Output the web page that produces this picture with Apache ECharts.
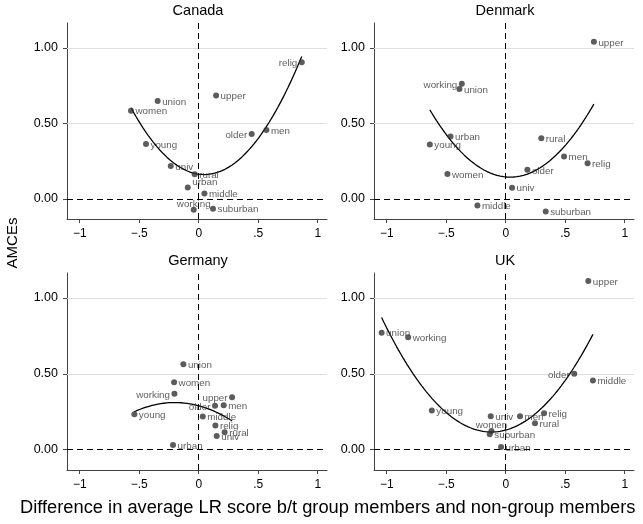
<!DOCTYPE html>
<html>
<head>
<meta charset="utf-8">
<script src="https://cdn.jsdelivr.net/npm/echarts@6/dist/echarts.min.js"></script>
<style>
  html, body { margin: 0; padding: 0; background: #fff; }
  #chart { width: 643px; height: 524px; }
</style>
</head>
<body>
<div id="chart"></div>
<script>
// values
const countries = ["Canada", "Denmark", "Germany", "UK"];

const canadaGroups = ["relig", "upper", "union", "women", "older", "men", "young", "univ", "rural", "urban", "middle", "working", "suburban"];
const canadaX = [0.866, 0.146, -0.345, -0.569, 0.445, 0.569, -0.443, -0.235, -0.034, -0.092, 0.048, -0.042, 0.120];
const canadaY = [0.905, 0.685, 0.648, 0.584, 0.430, 0.456, 0.363, 0.218, 0.163, 0.075, 0.035, -0.073, -0.066];

const denmarkGroups = ["upper", "working", "union", "urban", "young", "women", "rural", "men", "relig", "older", "univ", "middle", "suburban"];
const denmarkX = [0.741, -0.369, -0.389, -0.464, -0.638, -0.490, 0.299, 0.490, 0.688, 0.182, 0.053, -0.238, 0.336];
const denmarkY = [1.040, 0.762, 0.727, 0.412, 0.359, 0.165, 0.401, 0.280, 0.236, 0.192, 0.073, -0.044, -0.084];

const germanyGroups = ["union", "women", "working", "young", "upper", "older", "men", "middle", "relig", "rural", "univ", "urban"];
const germanyX = [-0.129, -0.207, -0.204, -0.541, 0.280, 0.137, 0.210, 0.034, 0.140, 0.218, 0.151, -0.216];
const germanyY = [0.564, 0.445, 0.368, 0.233, 0.346, 0.289, 0.293, 0.218, 0.159, 0.115, 0.090, 0.031];

const ukGroups = ["upper", "union", "working", "older", "middle", "young", "univ", "women", "suburban", "urban", "men", "relig", "rural"];
const ukX = [0.694, -1.043, -0.820, 0.576, 0.733, -0.621, -0.126, -0.120, -0.134, -0.039, 0.120, 0.322, 0.246];
const ukY = [1.112, 0.771, 0.742, 0.500, 0.456, 0.258, 0.220, 0.123, 0.101, 0.018, 0.220, 0.240, 0.174];

const xTicks = [-1, -0.5, 0, 0.5, 1];
const yTicks = [0, 0.5, 1];

// label placement (style, not data)
const labelLeft = { Canada: ["relig", "older"], Denmark: ["working"], Germany: ["working", "upper", "older"], UK: ["older"] };
const labelTop = { Canada: ["working"], UK: ["women"] };
const labelNudge = { Canada: { urban: [0, -5] } };

const panels = [
  { name: "Canada", g: canadaGroups, x: canadaX, y: canadaY },
  { name: "Denmark", g: denmarkGroups, x: denmarkX, y: denmarkY },
  { name: "Germany", g: germanyGroups, x: germanyX, y: germanyY },
  { name: "UK", g: ukGroups, x: ukX, y: ukY }
];

const font = "'Liberation Sans', Arial, Helvetica, sans-serif";
const grids = [
  { left: 67, top: 23, width: 260, height: 196 },
  { left: 374, top: 23, width: 260, height: 196 },
  { left: 67, top: 273, width: 260, height: 197 },
  { left: 374, top: 273, width: 260, height: 197 }
];

// quadratic least squares fit (like Stata qfit)
function qfit(xs, ys) {
  let s = [0, 0, 0, 0, 0], t = [0, 0, 0];
  xs.forEach((x, i) => {
    for (let k = 0; k < 5; k++) s[k] += Math.pow(x, k);
    for (let k = 0; k < 3; k++) t[k] += Math.pow(x, k) * ys[i];
  });
  const A = [[s[0], s[1], s[2], t[0]], [s[1], s[2], s[3], t[1]], [s[2], s[3], s[4], t[2]]];
  for (let i = 0; i < 3; i++) {
    for (let j = i + 1; j < 3; j++) {
      const f = A[j][i] / A[i][i];
      for (let k = i; k < 4; k++) A[j][k] -= f * A[i][k];
    }
  }
  const c = [0, 0, 0];
  for (let i = 2; i >= 0; i--) {
    let v = A[i][3];
    for (let k = i + 1; k < 3; k++) v -= A[i][k] * c[k];
    c[i] = v / A[i][i];
  }
  const lo = Math.min(...xs), hi = Math.max(...xs);
  const pts = [];
  for (let i = 0; i <= 100; i++) {
    const x = lo + (hi - lo) * i / 100;
    pts.push([x, c[0] + c[1] * x + c[2] * x * x]);
  }
  return pts;
}

const xAxis = [], yAxis = [], series = [], graphic = [];
panels.forEach((p, i) => {
  xAxis.push({
    gridIndex: i, type: "value", min: -1.107, max: 1.078,
    axisLine: { show: true, onZero: false, lineStyle: { color: "#444", width: 1 } },
    axisTick: { show: true, inside: false, length: 4, customValues: xTicks, lineStyle: { color: "#444" } },
    axisLabel: { customValues: xTicks, margin: 9, color: "#000", fontSize: 12, fontFamily: font,
      formatter: v => v === 0 ? "0" : String(v).replace("0.", ".").replace("-", "\u2212") },
    splitLine: { show: false }
  });
  yAxis.push({
    gridIndex: i, type: "value", min: -0.134, max: 1.165,
    axisLine: { show: true, onZero: false, lineStyle: { color: "#444", width: 1 } },
    axisTick: { show: true, inside: false, length: 4, customValues: yTicks, lineStyle: { color: "#444" } },
    axisLabel: { customValues: yTicks, margin: 9, color: "#000", fontSize: 12.5, fontFamily: font,
      formatter: v => v.toFixed(2) },
    splitLine: { show: false }
  });

  const left = labelLeft[p.name] || [];
  const top = labelTop[p.name] || [];
  const nudge = labelNudge[p.name] || {};
  const pts = p.g.map((g, k) => {
    const pos = left.includes(g) ? "left" : top.includes(g) ? "top" : "right";
    return {
      value: [p.x[k], p.y[k]], name: g,
      label: { position: pos, offset: nudge[g] || [0, pos === "top" ? 4 : 1] }
    };
  });

  // light grid lines + fit curve
  series.push({
    type: "line", xAxisIndex: i, yAxisIndex: i, data: qfit(p.x, p.y),
    showSymbol: false, smooth: false, silent: true, z: 3,
    lineStyle: { color: "#000", width: 1.3 },
    markLine: {
      silent: true, symbol: "none", z: 1, label: { show: false },
      lineStyle: { color: "#dedede", width: 1, type: "solid" },
      data: [{ yAxis: 0.5 }, { yAxis: 1 }]
    }
  });
  series.push({
    type: "scatter", xAxisIndex: i, yAxisIndex: i, data: pts, z: 4,
    symbolSize: 6, itemStyle: { color: "#333" },
    label: { show: true, formatter: "{b}", distance: 1.5, color: "#333", fontSize: 9.8, fontFamily: font },
    markLine: {
      silent: true, symbol: "none", label: { show: false },
      lineStyle: { color: "#000", width: 1, type: [6, 4] },
      data: [{ xAxis: 0 }, { yAxis: 0 }]
    }
  });

  const gr = grids[i];
  graphic.push({
    type: "text", x: gr.left + gr.width / 2 + 1, y: gr.top - 12,
    style: { text: p.name, align: "center", verticalAlign: "middle", fontSize: 14.5, fontFamily: font, fill: "#000" }
  });
});

graphic.push({
  type: "text", x: 13, y: 243, rotation: Math.PI / 2,
  style: { text: "AMCEs", align: "center", verticalAlign: "middle", fontSize: 15, fontFamily: font, fill: "#000" }
});
graphic.push({
  type: "text", x: 20, y: 508,
  style: { text: "Difference in average LR score b/t group members and non-group members", verticalAlign: "middle", fontSize: 18.3, fontFamily: font, fill: "#000" }
});

const chart = echarts.init(document.getElementById("chart"));
chart.setOption({
  animation: false,
  backgroundColor: "#fff",
  grid: grids,
  xAxis: xAxis,
  yAxis: yAxis,
  series: series,
  graphic: graphic
});
</script>
</body>
</html>
